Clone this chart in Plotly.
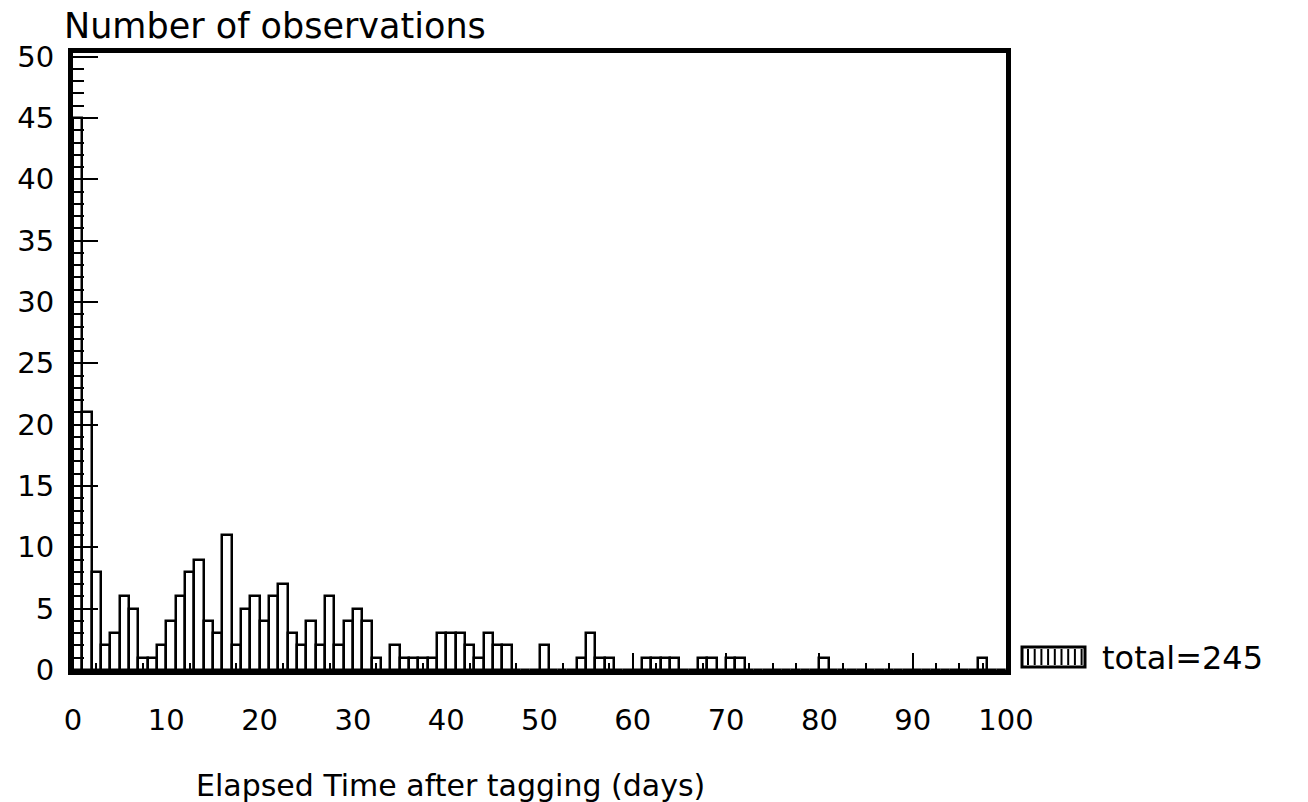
import plotly.graph_objects as go

# Number of observations per day after tagging (days 0..99)
days = list(range(100))
counts = [45, 21, 8, 2, 3, 6, 5, 1, 1, 2,
          4, 6, 8, 9, 4, 3, 11, 2, 5, 6,
          4, 6, 7, 3, 2, 4, 2, 6, 2, 4,
          5, 4, 1, 0, 2, 1, 1, 1, 1, 3,
          3, 3, 2, 1, 3, 2, 2, 0, 0, 0,
          2, 0, 0, 0, 1, 3, 1, 1, 0, 0,
          0, 1, 1, 1, 1, 0, 0, 1, 1, 0,
          1, 1, 0, 0, 0, 0, 0, 0, 0, 0,
          1, 0, 0, 0, 0, 0, 0, 0, 0, 0,
          0, 0, 0, 0, 0, 0, 0, 1, 0, 0]
x_ticks = list(range(0, 101, 10))
y_ticks = list(range(0, 51, 5))

FONT = "DejaVu Sans"
L, R, T, B = 73, 302, 53, 132
W, H = 1308, 802
pw, ph = W - L - R, H - T - B

def px(xp):
    return (xp - L) / pw

def py(yp):
    return (H - B - yp) / ph

fig = go.Figure()
fig.add_trace(go.Bar(
    x=[d + 0.5 for d in days], y=counts, width=1.0,
    marker=dict(color="white", line=dict(color="black", width=2.5)),
    showlegend=False, hoverinfo="x+y",
))

fig.update_layout(
    width=W, height=H,
    margin=dict(l=L, r=R, t=T, b=B, pad=0),
    paper_bgcolor="white", plot_bgcolor="white",
    bargap=0,
    font=dict(family=FONT, color="black"),
    xaxis=dict(range=[0, 100], tickvals=x_ticks, ticktext=[str(v) for v in x_ticks],
               showgrid=False, zeroline=False, showline=True, linecolor="black",
               linewidth=5, mirror=True, ticks="inside", ticklen=17, tickwidth=2,
               tickcolor="black", tickfont=dict(size=29, family=FONT),
               ticklabelstandoff=20,
               minor=dict(dtick=2.5, tick0=0, ticks="inside", ticklen=7,
                          tickwidth=2, tickcolor="black", showgrid=False)),
    yaxis=dict(range=[0, 50.3], tickvals=y_ticks, ticktext=[str(v) for v in y_ticks],
               showgrid=False, zeroline=False, showline=True, linecolor="black",
               linewidth=5, mirror=True, ticks="inside", ticklen=25, tickwidth=2,
               tickcolor="black", tickfont=dict(size=29, family=FONT),
               ticklabelstandoff=8,
               minor=dict(dtick=1, tick0=0, ticks="inside", ticklen=11,
                          tickwidth=2, tickcolor="black", showgrid=False)),
)

annotations = [
    dict(text="Number of observations", x=px(62), y=py(26), xref="paper", yref="paper",
         xanchor="left", yanchor="middle", showarrow=False,
         font=dict(size=35, family=FONT, color="black")),
    dict(text="Elapsed Time after tagging (days)", x=px(450), y=py(785),
         xref="paper", yref="paper", xanchor="center", yanchor="middle",
         showarrow=False, font=dict(size=30, family=FONT, color="black")),
    dict(text=f"total={sum(counts)}", x=px(1100), y=py(658), xref="paper", yref="paper",
         xanchor="left", yanchor="middle", showarrow=False,
         font=dict(size=32, family=FONT, color="black")),
]
fig.update_layout(annotations=annotations)

# legend swatch (hatched box)
shapes = [dict(type="rect", xref="paper", yref="paper",
               x0=px(1022), x1=px(1085), y0=py(667), y1=py(647),
               line=dict(color="black", width=3), fillcolor="white")]
for k in range(9):
    xx = px(1028 + 6.7 * k)
    shapes.append(dict(type="line", xref="paper", yref="paper",
                       x0=xx, x1=xx, y0=py(665), y1=py(649),
                       line=dict(color="black", width=2)))
fig.update_layout(shapes=shapes)

fig.write_html("out.html")
